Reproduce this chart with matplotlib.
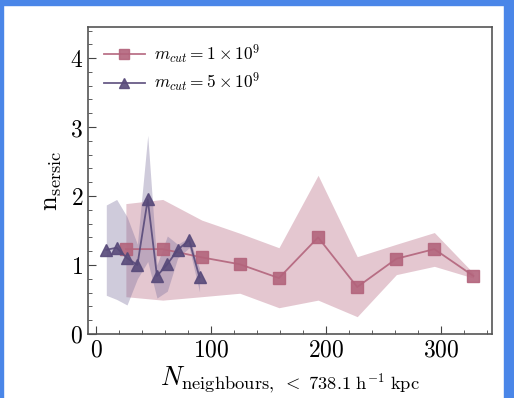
import numpy as np
from matplotlib import pyplot as plt
from matplotlib.patches import Rectangle
from matplotlib.ticker import MultipleLocator, FuncFormatter

plt.rcParams["mathtext.fontset"] = "cm"
plt.rcParams["font.family"] = "serif"
plt.rcParams["font.serif"] = ["DejaVu Serif"]

# m_cut = 1e9 (pink squares)
x_lo = [26, 58, 92, 125, 159, 193, 227, 261, 294, 328]
y_lo = [1.23, 1.23, 1.11, 1.01, 0.81, 1.40, 0.68, 1.09, 1.23, 0.84]
up_lo = [1.89, 1.95, 1.65, 1.46, 1.25, 2.30, 1.12, 1.30, 1.47, 0.88]
dn_lo = [0.54, 0.49, 0.54, 0.59, 0.38, 0.49, 0.25, 0.86, 0.98, 0.81]

# m_cut = 5e9 (purple triangles)
x_hi = [9, 18, 27, 36, 45, 53, 62, 71, 81, 90]
y_hi = [1.22, 1.25, 1.10, 1.00, 1.95, 0.84, 1.01, 1.22, 1.36, 0.82]
up_hi = [1.87, 1.95, 1.70, 1.30, 2.88, 1.00, 1.42, 1.30, 1.40, 0.95]
dn_hi = [0.56, 0.50, 0.42, 0.80, 1.05, 0.52, 0.62, 1.10, 1.25, 0.61]

labels = [r"$m_{cut} = 1\times10^{9}$", r"$m_{cut} = 5\times10^{9}$"]

pink = "#b3647c"
pink_band = "#b5647e"
purple = "#584a7a"
purple_band = "#7a6f9c"


def main():
    fig = plt.figure(figsize=(5.14, 3.98), dpi=100)
    ax = fig.add_axes([0.171, 0.161, 0.786, 0.771])

    ax.fill_between(x_lo, dn_lo, up_lo, color=pink_band, alpha=0.36, lw=0)
    ax.fill_between(x_hi, dn_hi, up_hi, color=purple_band, alpha=0.36, lw=0)
    ax.plot(x_lo, y_lo, "-s", color=pink, ms=8, lw=1.3, alpha=0.9,
            label=labels[0])
    ax.plot(x_hi, y_hi, "-^", color=purple, ms=8.5, lw=1.3, alpha=0.9,
            label=labels[1])

    ax.set_xlim(-7, 344)
    ax.set_ylim(0, 4.45)
    ax.xaxis.set_major_locator(MultipleLocator(100))
    ax.xaxis.set_minor_locator(MultipleLocator(20))
    ax.yaxis.set_major_locator(MultipleLocator(1))
    ax.yaxis.set_minor_locator(MultipleLocator(0.2))
    fmt = FuncFormatter(lambda v, p: r"$%d$" % round(v))
    ax.xaxis.set_major_formatter(fmt)
    ax.yaxis.set_major_formatter(fmt)
    ax.tick_params(which="both", direction="in", top=False, right=False,
                   labelsize=17, color="#444444")
    ax.tick_params(which="major", length=6)
    ax.tick_params(which="minor", length=3)
    for s in ax.spines.values():
        s.set_color("#555555")
        s.set_linewidth(1.2)

    ax.set_xlabel(r"$N_{\mathrm{neighbours,}\ <\ 738.1\ \mathrm{h}^{-1}\ \mathrm{kpc}}$",
                  fontsize=19, labelpad=2)
    ax.set_ylabel(r"$\mathrm{n}_{\mathrm{sersic}}$", fontsize=19, labelpad=4)

    ax.legend(loc="upper left", frameon=False, fontsize=12.5, handlelength=2.4,
              markerscale=0.85, labelspacing=0.3, borderaxespad=0.5,
              handletextpad=0.5)

    # blue screenshot frame
    blue = "#4a86e8"
    fig.patches.append(Rectangle((0, 1 - 5 / 398), 1, 5 / 398,
                                 transform=fig.transFigure, color=blue))
    fig.patches.append(Rectangle((0, 0), 3 / 514, 1,
                                 transform=fig.transFigure, color=blue))
    fig.patches.append(Rectangle((1 - 10 / 514, 0), 10 / 514, 1,
                                 transform=fig.transFigure, color=blue))

    fig.savefig("out.png", dpi=100)


if __name__ == "__main__":
    main()
